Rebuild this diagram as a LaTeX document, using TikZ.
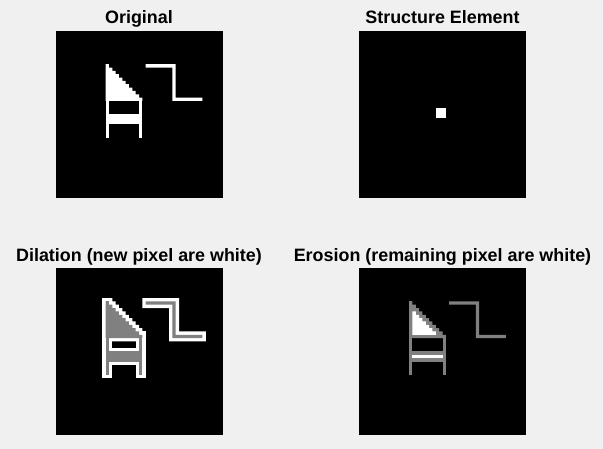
\documentclass[tikz,border=0pt]{standalone}
\usepackage{fontspec}
\setmainfont{Liberation Sans}
\definecolor{bgcol}{RGB}{240,240,240}
\definecolor{midgray}{RGB}{128,128,128}
% original binary shape (pixel grid, 50x50)
\newcommand{\shapeOrig}[1]{%
  \fill[#1] (15,10) rectangle (16,32);
  \fill[#1] (25,20) rectangle (26,32);
  \fill[#1] (15,25) rectangle (26,28);
  \fill[#1] (15,10) -- (16,10) -- (16,11) -- (17,11) -- (17,12) -- (18,12) -- (18,13) -- (19,13)
     -- (19,14) -- (20,14) -- (20,15) -- (21,15) -- (21,16) -- (22,16) -- (22,17) -- (23,17)
     -- (23,18) -- (24,18) -- (24,19) -- (25,19) -- (25,20) -- (26,20) -- (26,21) -- (15,21) -- cycle;
  \fill[#1] (27,10) -- (36,10) -- (36,20) -- (44,20) -- (44,21) -- (35,21) -- (35,11) -- (27,11) -- cycle;
}
% dilated shape (3x3 square)
\newcommand{\shapeDil}[1]{%
  \fill[#1] (14,9) rectangle (17,33);
  \fill[#1] (24,19) rectangle (27,33);
  \fill[#1] (14,24) rectangle (27,29);
  \fill[#1] (14,9) -- (17,9) -- (17,10) -- (18,10) -- (18,11) -- (19,11) -- (19,12) -- (20,12)
     -- (20,13) -- (21,13) -- (21,14) -- (22,14) -- (22,15) -- (23,15) -- (23,16) -- (24,16)
     -- (24,17) -- (25,17) -- (25,18) -- (26,18) -- (26,19) -- (27,19) -- (27,22) -- (14,22) -- cycle;
  \fill[#1] (26,9) -- (37,9) -- (37,19) -- (45,19) -- (45,22) -- (34,22) -- (34,12) -- (26,12) -- cycle;
}
% eroded shape (3x3 square)
\newcommand{\shapeEro}[1]{%
  \fill[#1] (16,13) -- (17,13) -- (17,14) -- (18,14) -- (18,15) -- (19,15) -- (19,16) -- (20,16)
     -- (20,17) -- (21,17) -- (21,18) -- (22,18) -- (22,19) -- (23,19) -- (23,20) -- (16,20) -- cycle;
  \fill[#1] (16,26) rectangle (25,27);
}
\begin{document}
\begin{tikzpicture}[x=1pt,y=-1pt,
  titletext/.style={anchor=base,inner sep=0pt,font=\fontsize{17.9}{20}\selectfont\bfseries},
  panelbox/.style={fill=black}]
\useasboundingbox (0,0) rectangle (603,449);
\fill[bgcol] (0,0) rectangle (603,449);

% titles
\node[titletext] (tOrig) at (139,24) {Original};
\node[titletext] (tSE) at (442.5,24) {Structure Element};
\node[titletext] (tDil) at (139,262) {Dilation (new pixel are white)};
\node[titletext] (tEro) at (442.5,262) {Erosion (remaining pixel are white)};

% panel 1: original
\begin{scope}[shift={(55.5,30.8)},x=3.34pt,y=-3.34pt]
  \fill[panelbox] (0,0) rectangle (50,50);
  \shapeOrig{white}
\end{scope}

% panel 2: structure element
\begin{scope}[shift={(359,30.8)},x=3.34pt,y=-3.34pt]
  \fill[panelbox] (0,0) rectangle (50,50);
  \fill[white] (23,23) rectangle (26,26);
\end{scope}

% panel 3: dilation
\begin{scope}[shift={(55.5,268)},x=3.34pt,y=-3.34pt]
  \fill[panelbox] (0,0) rectangle (50,50);
  \shapeDil{white}
  \shapeOrig{midgray}
\end{scope}

% panel 4: erosion
\begin{scope}[shift={(359,268)},x=3.34pt,y=-3.34pt]
  \fill[panelbox] (0,0) rectangle (50,50);
  \shapeOrig{midgray}
  \shapeEro{white}
\end{scope}
\end{tikzpicture}
\end{document}
